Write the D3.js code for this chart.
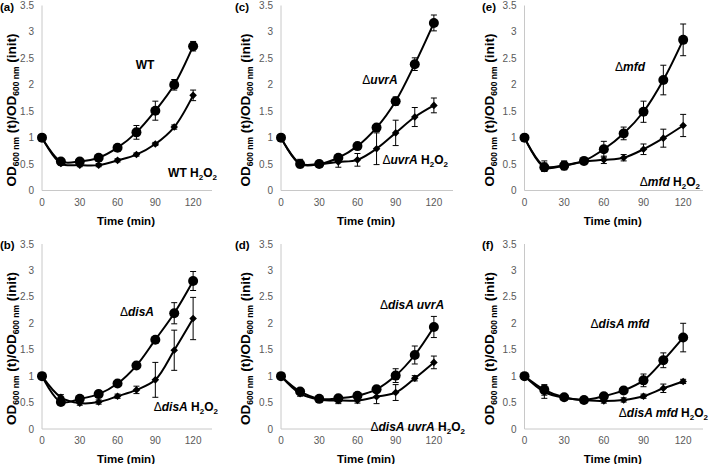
<!DOCTYPE html>
<html>
<head>
<meta charset="utf-8">
<script src="https://cdn.jsdelivr.net/npm/d3@7"></script>
<style>
  body { margin: 0; background: #fff; }
  svg { font-family: "Liberation Sans", Arial, sans-serif; }
</style>
</head>
<body>
<svg id="chart" width="709" height="464"></svg>
<script>
// sampling times (min)
const times = [0, 15, 30, 45, 60, 75, 90, 105, 120];
const xTicks = [0, 30, 60, 90, 120];
const yTicks = [0, 0.5, 1, 1.5, 2, 2.5, 3, 3.5];

// (a) WT
const wtCtrl    = [1.0, 0.55, 0.55, 0.62, 0.81, 1.10, 1.51, 2.00, 2.73];
const wtCtrlErr = [0.02, 0.04, 0.04, 0.04, 0.05, 0.13, 0.18, 0.10, 0.09];
const wtH2O2    = [1.0, 0.51, 0.48, 0.48, 0.57, 0.68, 0.88, 1.20, 1.80];
const wtH2O2Err = [0.02, 0.03, 0.03, 0.03, 0.03, 0.03, 0.03, 0.04, 0.10];

// (b) disA
const disCtrl    = [1.0, 0.51, 0.57, 0.66, 0.86, 1.20, 1.69, 2.19, 2.80];
const disCtrlErr = [0.02, 0.04, 0.05, 0.06, 0.05, 0.05, 0.05, 0.20, 0.18];
const disH2O2    = [1.0, 0.60, 0.49, 0.51, 0.62, 0.74, 0.93, 1.49, 2.09];
const disH2O2Err = [0.02, 0.05, 0.04, 0.04, 0.04, 0.07, 0.33, 0.38, 0.40];

// (c) uvrA
const uvrCtrl    = [1.0, 0.50, 0.50, 0.62, 0.84, 1.19, 1.69, 2.39, 3.17];
const uvrCtrlErr = [0.02, 0.06, 0.04, 0.04, 0.04, 0.05, 0.08, 0.12, 0.15];
const uvrH2O2    = [1.0, 0.51, 0.50, 0.54, 0.58, 0.79, 1.09, 1.39, 1.61];
const uvrH2O2Err = [0.02, 0.08, 0.06, 0.10, 0.12, 0.30, 0.24, 0.18, 0.14];

// (d) disA uvrA
const disUvrCtrl    = [1.0, 0.71, 0.57, 0.58, 0.63, 0.75, 1.01, 1.40, 1.93];
const disUvrCtrlErr = [0.02, 0.05, 0.05, 0.05, 0.05, 0.06, 0.13, 0.17, 0.20];
const disUvrH2O2    = [1.0, 0.67, 0.56, 0.54, 0.54, 0.61, 0.69, 0.96, 1.26];
const disUvrH2O2Err = [0.02, 0.05, 0.05, 0.06, 0.05, 0.13, 0.15, 0.05, 0.12];

// (e) mfd
const mfdCtrl    = [1.0, 0.44, 0.47, 0.56, 0.78, 1.08, 1.49, 2.09, 2.85];
const mfdCtrlErr = [0.02, 0.08, 0.08, 0.06, 0.15, 0.12, 0.20, 0.28, 0.30];
const mfdH2O2    = [1.0, 0.46, 0.48, 0.55, 0.58, 0.62, 0.78, 0.99, 1.23];
const mfdH2O2Err = [0.02, 0.10, 0.08, 0.06, 0.07, 0.06, 0.10, 0.17, 0.21];

// (f) disA mfd
const disMfdCtrl    = [1.0, 0.74, 0.60, 0.55, 0.62, 0.73, 0.92, 1.30, 1.73];
const disMfdCtrlErr = [0.02, 0.10, 0.04, 0.04, 0.04, 0.06, 0.12, 0.14, 0.27];
const disMfdH2O2    = [1.0, 0.70, 0.59, 0.55, 0.53, 0.55, 0.62, 0.77, 0.90];
const disMfdH2O2Err = [0.02, 0.12, 0.04, 0.04, 0.04, 0.04, 0.04, 0.08, 0.04];

const panels = [
  { tag: "(a)", delta: false, name: "WT",        ctrl: wtCtrl,     ctrlErr: wtCtrlErr,     h2o2: wtH2O2,     h2o2Err: wtH2O2Err,     col: 0, row: 0,
    top: [145, 69],  bot: [217, 177] },
  { tag: "(c)", delta: true,  name: "uvrA",      ctrl: uvrCtrl,    ctrlErr: uvrCtrlErr,    h2o2: uvrH2O2,    h2o2Err: uvrH2O2Err,    col: 1, row: 0,
    top: [380, 84],  bot: [448, 164] },
  { tag: "(e)", delta: true,  name: "mfd",       ctrl: mfdCtrl,    ctrlErr: mfdCtrlErr,    h2o2: mfdH2O2,    h2o2Err: mfdH2O2Err,    col: 2, row: 0,
    top: [630, 71],  bot: [700, 186] },
  { tag: "(b)", delta: true,  name: "disA",      ctrl: disCtrl,    ctrlErr: disCtrlErr,    h2o2: disH2O2,    h2o2Err: disH2O2Err,    col: 0, row: 1,
    top: [137, 316], bot: [218, 411] },
  { tag: "(d)", delta: true,  name: "disA uvrA", ctrl: disUvrCtrl, ctrlErr: disUvrCtrlErr, h2o2: disUvrH2O2, h2o2Err: disUvrH2O2Err, col: 1, row: 1,
    top: [412, 309], bot: [465, 431] },
  { tag: "(f)", delta: true,  name: "disA mfd",  ctrl: disMfdCtrl, ctrlErr: disMfdCtrlErr, h2o2: disMfdH2O2, h2o2Err: disMfdH2O2Err, col: 2, row: 1,
    top: [620, 328], bot: [708, 417] }
];

// plot frame per column / row
const colX = [[42, 212], [281, 453], [524.5, 703]];  // pixel for 0 and 135 min
const colTitleX = [16, 250, 494];
const colTagX = [0, 235, 482];
const rowY = [[190.5, 5.5], [429, 244]];              // pixel for 0 and 3.5

const svg = d3.select("#chart");

function addLabel(g, x, y, p, withH2O2, anchor) {
  const t = g.append("text")
    .attr("x", x).attr("y", y)
    .attr("text-anchor", anchor)
    .attr("font-size", 12)
    .attr("font-weight", "bold")
    .attr("fill", "#000");
  if (p.delta) t.append("tspan").attr("font-weight", "normal").text("\u0394");
  t.append("tspan").attr("font-style", p.delta ? "italic" : "normal").text(p.name);
  if (withH2O2) {
    t.append("tspan").text(" H");
    t.append("tspan").attr("font-size", 8).attr("dy", 3).text("2");
    t.append("tspan").attr("dy", -3).text("O");
    t.append("tspan").attr("font-size", 8).attr("dy", 3).text("2");
  }
}

panels.forEach(p => {
  const x = d3.scaleLinear().domain([0, 135]).range(colX[p.col]);
  const y = d3.scaleLinear().domain([0, 3.5]).range(rowY[p.row]);
  const g = svg.append("g");

  // axes
  g.append("line")
    .attr("x1", x(0)).attr("x2", x(0))
    .attr("y1", y(3.5)).attr("y2", y(0))
    .attr("stroke", "#c8c8c8").attr("stroke-width", 1);
  g.append("line")
    .attr("x1", x(0)).attr("x2", x(135))
    .attr("y1", y(0)).attr("y2", y(0))
    .attr("stroke", "#c8c8c8").attr("stroke-width", 1);

  g.selectAll(".ytick")
    .data(yTicks)
    .enter().append("text")
    .attr("x", x(0) - 8)
    .attr("y", d => y(d))
    .attr("dy", "0.35em")
    .attr("text-anchor", "end")
    .attr("font-size", 10)
    .attr("fill", "#595959")
    .text(d => d);

  g.selectAll(".xtick")
    .data(xTicks)
    .enter().append("text")
    .attr("x", d => x(d))
    .attr("y", y(0) + 15)
    .attr("text-anchor", "middle")
    .attr("font-size", 10)
    .attr("fill", "#595959")
    .text(d => d);

  g.append("text")
    .attr("x", (x(0) + x(135)) / 2 - 1)
    .attr("y", y(0) + 34)
    .attr("text-anchor", "middle")
    .attr("font-size", 11.5)
    .attr("font-weight", "bold")
    .text("Time (min)");

  // y title
  const yt = g.append("text")
    .attr("transform", "translate(" + colTitleX[p.col] + "," + ((y(0) + y(3.5)) / 2 + 12) + ") rotate(-90)")
    .attr("text-anchor", "middle")
    .attr("font-size", 13.5)
    .attr("font-weight", "bold");
  yt.append("tspan").text("OD");
  yt.append("tspan").attr("font-size", 8.5).attr("dy", 3).text("600 nm");
  yt.append("tspan").attr("dy", -3).text(" (t)/OD");
  yt.append("tspan").attr("font-size", 8.5).attr("dy", 3).text("600 nm");
  yt.append("tspan").attr("dy", -3).text(" (init)");

  g.append("text")
    .attr("x", colTagX[p.col])
    .attr("y", y(3.5) + 5)
    .attr("font-size", 11.5)
    .attr("font-weight", "bold")
    .text(p.tag);

  const line = d3.line()
    .x((d, i) => x(times[i]))
    .y(d => y(d))
    .curve(d3.curveCatmullRom.alpha(0.5));

  [[p.h2o2, p.h2o2Err, "diamond"], [p.ctrl, p.ctrlErr, "circle"]].forEach(([vals, errs, shape]) => {
    g.append("path")
      .datum(vals)
      .attr("d", line)
      .attr("fill", "none")
      .attr("stroke", "#000")
      .attr("stroke-width", 2);

    const eb = g.append("g").attr("stroke", "#000").attr("stroke-width", 1);
    vals.forEach((v, i) => {
      const cx = x(times[i]);
      eb.append("line").attr("x1", cx).attr("x2", cx).attr("y1", y(v - errs[i])).attr("y2", y(v + errs[i]));
      eb.append("line").attr("x1", cx - 3).attr("x2", cx + 3).attr("y1", y(v - errs[i])).attr("y2", y(v - errs[i]));
      eb.append("line").attr("x1", cx - 3).attr("x2", cx + 3).attr("y1", y(v + errs[i])).attr("y2", y(v + errs[i]));
    });

    if (shape === "circle") {
      g.selectAll(null)
        .data(vals)
        .enter().append("circle")
        .attr("cx", (d, i) => x(times[i]))
        .attr("cy", d => y(d))
        .attr("r", 5)
        .attr("fill", "#000");
    } else {
      g.selectAll(null)
        .data(vals)
        .enter().append("path")
        .attr("d", (d, i) => {
          const cx = x(times[i]), cy = y(d), r = 3.8;
          return "M" + cx + "," + (cy - r) + "L" + (cx + r) + "," + cy + "L" + cx + "," + (cy + r) + "L" + (cx - r) + "," + cy + "Z";
        })
        .attr("fill", "#000");
    }
  });

  addLabel(g, p.top[0], p.top[1], p, false, "middle");
  addLabel(g, p.bot[0], p.bot[1], p, true, "end");
});
</script>
</body>
</html>
